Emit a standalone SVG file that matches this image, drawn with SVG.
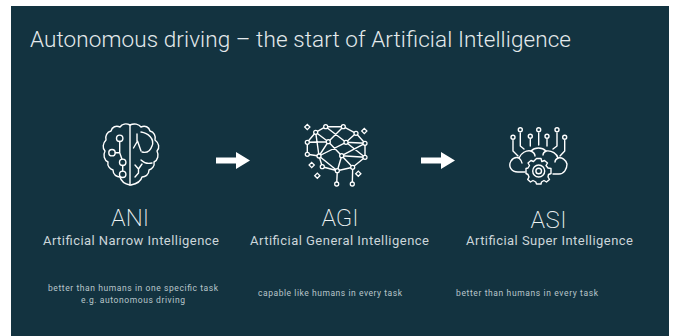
<svg xmlns="http://www.w3.org/2000/svg" width="674" height="336" viewBox="0 0 674 336">
<style>
text{font-family:Roboto,"Liberation Sans",sans-serif;text-anchor:middle;font-weight:300}
.t{fill:#e4eaec;font-size:22.500px}
.h{fill:#eef2f3;font-size:24px;font-weight:200}
.s{fill:#ccd6da;font-size:13px;font-weight:400}
.b{fill:#b9c6cb;font-size:8.500px;font-weight:400}
.i{fill:none;stroke:#fff;stroke-width:1.4;stroke-linecap:round;stroke-linejoin:round}
.n{fill:#133340;stroke:#fff;stroke-width:1.3}
.a{fill:#fff}
</style>
<defs>
<path id="sp" d="M0-2.600 2.600 0 0 2.600-2.600 0Z" fill="none" stroke="#fff" stroke-width="1.300"/>
<circle id="nd" r="2" class="n"/>
<path id="arrow" d="M0-3H20V-8.500L34 0 20 8.500V3H0Z" class="a"/>
</defs>
<rect width="674" height="336" fill="#fff"/>
<rect x="11" y="6" width="658" height="330" fill="#133340"/>
<text id="title" class="t" x="300.500" y="47" textLength="541">Autonomous driving – the start of Artificial Intelligence</text>
<g id="connectors">
<use href="#arrow" x="216" y="160.500"/>
<use href="#arrow" x="421" y="160.500"/>
</g>
<g id="ani">
<g class="i">
<path d="M130 125C126 123 122 124 120 127 116 125 112 127 111 131 107 132 105 136 106 140 103 143 102 148 105 151 103 155 104 160 108 162 107 166 110 169 113 170 113 175 117 177 120 177 121 181 125 184 130 185"/>
<path d="M130 125C134 123 139 124 141 127 145 125 149 127 150 131 154 132 156 136 155 140 159 143 160 148 157 151 159 155 158 160 154 162 155 166 152 169 149 170 149 175 145 177 142 177 141 181 136 184 131 185"/>
<path d="M130 125V185"/>
<circle cx="119.700" cy="138.300" r="3.200"/><circle cx="112" cy="152.700" r="3.200"/><circle cx="122.700" cy="162.300" r="3.200"/><circle cx="122.700" cy="174.300" r="3.200"/>
<path d="M119.700 141.500V152.700H115.200M119.700 152.700 122 159.200M122.700 165.500V171.100"/>
<path d="M133.500 148 137.500 141 141 151M137 141V134"/>
<path d="M141 132C148 133 155 139 152 146 150 152 146 153 142 152"/>
<path d="M141 160C144 163 148 164 152 163"/>
<path d="M135 165 138.500 169 142 164M138.500 169V173L135 177"/>
</g>
<text class="h" x="130" y="226" textLength="38">ANI</text>
<text class="s" x="131" y="245" textLength="176">Artificial Narrow Intelligence</text>
<text class="b" x="133" y="291" textLength="170">better than humans in one specific task</text>
<text class="b" x="133" y="303" textLength="104">e.g. autonomous driving</text>
</g>
<g id="agi">
<path class="i" d="M325.700 126.700H343.300L356 133.300 365 143.300V157.300L352.700 167.300 337.300 170.700 322.300 166.700 319 156 307.300 154.300V142.300L315.700 132.300 325.700 126.700M315.700 132.300 328.300 141.700 341.700 155.700 365 157.300M343.300 126.700 328.300 141.700 307.300 142.300M325.700 126.700 346 142.300 365 143.300M356 133.300 346 142.300 319 156 307.300 154.300M328.300 141.700 319 156M346 142.300 365 157.300M365 143.300 341.700 155.700 337.300 170.700M319 156 337.300 170.700M341.700 155.700 352.700 167.300M315.700 132.300 319 156M322.300 166.700 337.300 170.700M337.300 170.700 336.700 184M352.700 167.300 352.300 184"/>
<g>
<use href="#nd" x="325.700" y="126.700"/><use href="#nd" x="343.300" y="126.700"/><use href="#nd" x="315.700" y="132.300"/><use href="#nd" x="356" y="133.300"/><use href="#nd" x="307.300" y="142.300"/><use href="#nd" x="328.300" y="141.700"/><use href="#nd" x="346" y="142.300"/><use href="#nd" x="365" y="143.300"/><use href="#nd" x="307.300" y="154.300"/><use href="#nd" x="319" y="156"/><use href="#nd" x="341.700" y="155.700"/><use href="#nd" x="365" y="157.300"/><use href="#nd" x="322.300" y="166.700"/><use href="#nd" x="337.300" y="170.700"/><use href="#nd" x="352.700" y="167.300"/><use href="#nd" x="336.700" y="184"/><use href="#nd" x="352.300" y="184"/>
<use href="#sp" x="307.300" y="127"/><use href="#sp" x="364.300" y="131"/><use href="#sp" x="311.700" y="165"/><use href="#sp" x="317.300" y="175.700"/><use href="#sp" x="358.300" y="173.700"/>
</g>
<text class="h" x="340" y="226" textLength="37">AGI</text>
<text class="s" x="339.500" y="245" textLength="179">Artificial General Intelligence</text>
<text class="b" x="330" y="296" textLength="144">capable like humans in every task</text>
</g>
<g id="asi">
<g class="i">
<circle cx="520.300" cy="129.700" r="2"/><circle cx="538.700" cy="129.700" r="2"/><circle cx="557" cy="129.700" r="2"/><circle cx="513" cy="137.300" r="2"/><circle cx="564.700" cy="137.300" r="2"/><circle cx="530.300" cy="136.300" r="2"/><circle cx="547" cy="136.300" r="2"/>
<path d="M520.300 133V146L524 149M538.700 133V145M557 133V146L553 149M513 140.500V151L518 156M564.700 140.500V151L560 156M530.300 139.500V146M547 139.500V146"/>
<path d="M525 172H518C511 172 508 166 511 161 513 158 516 157 519 158 521 153 526 150 531 151 535 147 542 147 546 151 552 150 557 154 558 158 562 157 566 160 567 164 567 169 564 174 559 174H553"/>
<path d="M519 158C521 160 522 161 522 163M531 151C533 152 535 154 535 156M546 151C544 152 543 153 543 155M558 158C556 159 555 161 555 162"/>
<circle cx="538.700" cy="171" r="6"/><circle cx="538.700" cy="171" r="2.800"/>
<path d="M536.500 158.500H541L541.800 161.500 544.500 160.500 547.500 163 546 165.500 548 168 551 168.500V173.500L548.500 174.500 548 177 549.500 179.500 546.500 182 544 180.500 541.500 182 541 184H536.500L535.800 182 533 180.500 530.500 182 527.700 179.500 529 177 528 174.500 526 173.500V168.500L528 168 529.500 165.500 528 163 531 160.500 533.500 161.500Z"/>
</g>
<text class="h" x="548.500" y="228" textLength="36">ASI</text>
<text class="s" x="549.500" y="245" textLength="167">Artificial Super Intelligence</text>
<text class="b" x="527" y="296" textLength="142">better than humans in every task</text>
</g>
</svg>
